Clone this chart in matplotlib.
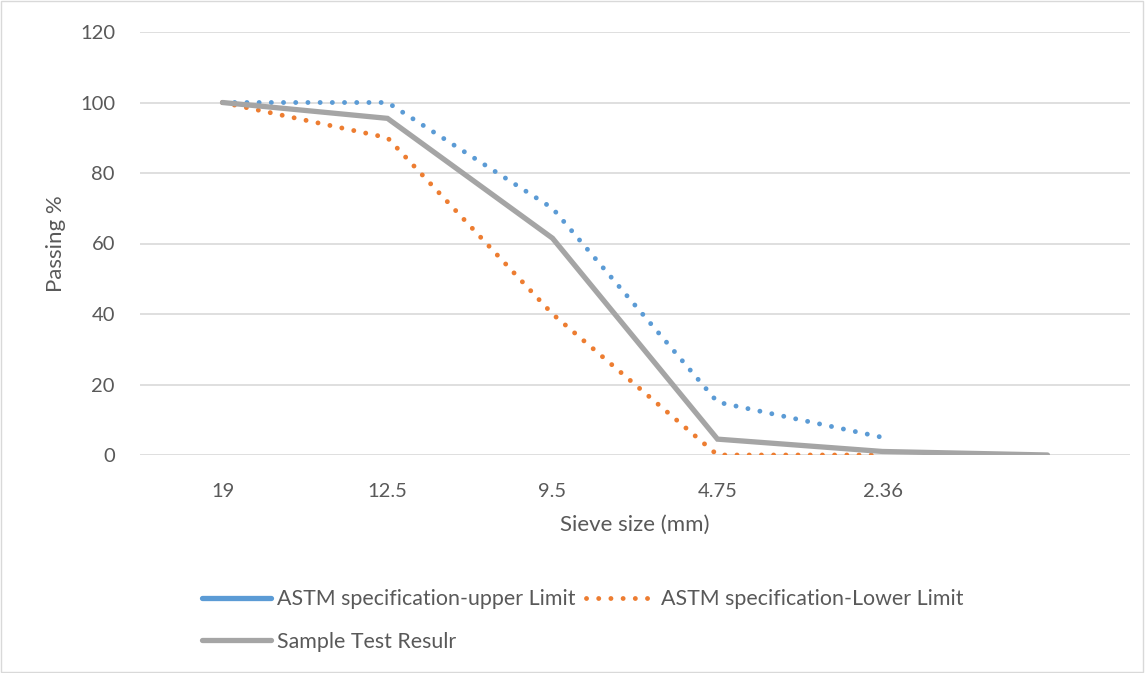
import numpy as np
import matplotlib.pyplot as plt
from matplotlib.lines import Line2D
from matplotlib.patches import Rectangle

plt.rcParams['font.family'] = ['Lato', 'DejaVu Sans']

sieve_labels = ['19', '12.5', '9.5', '4.75', '2.36', '']
upper_limit = [100, 100, 70, 15, 5]
lower_limit = [100, 90, 40, 0, 0]
sample_result = [100, 95.5, 61.5, 4.5, 1, 0]

blue = '#5B9BD5'
orange = '#ED7D31'
grey = '#A5A5A5'
text_col = '#595959'

fig = plt.figure(figsize=(11.45, 6.73), dpi=100)
ax = fig.add_axes([140 / 1145, 1 - 455 / 673, 990 / 1145, 423 / 673])

x = np.arange(len(sieve_labels))
dots = (0, (0.01, 2.5))
ax.plot(x[:len(upper_limit)], upper_limit, color=blue, lw=3.5,
        linestyle=dots, dash_capstyle='round', zorder=3)
ax.plot(x[:len(lower_limit)], lower_limit, color=orange, lw=3.5,
        linestyle=dots, dash_capstyle='round', zorder=3)
ax.plot(x, sample_result, color=grey, lw=3.8, solid_capstyle='round',
        solid_joinstyle='miter', zorder=4)

ax.set_xlim(-0.5, len(sieve_labels) - 0.5)
ax.set_ylim(0, 120)
ax.set_yticks(range(0, 121, 20))
ax.set_xticks(x)
ax.set_xticklabels(sieve_labels)
ax.grid(axis='y', color='#D9D9D9', lw=1.2)
ax.set_axisbelow(True)
for s in ax.spines.values():
    s.set_visible(False)
ax.tick_params(length=0, labelsize=14.5, labelcolor=text_col)
ax.tick_params(axis='x', pad=20)
ax.tick_params(axis='y', pad=18)
ax.set_xlabel('Sieve size (mm)', fontsize=16, color=text_col, labelpad=11)
ax.set_ylabel('Passing %', fontsize=16, color=text_col, labelpad=10)

handles = [
    Line2D([], [], color=blue, lw=3.8, solid_capstyle='round'),
    Line2D([], [], color=grey, lw=3.8, solid_capstyle='round'),
    Line2D([], [], color=orange, lw=3.5, linestyle=dots, dash_capstyle='round'),
]
labels = ['ASTM specification-upper Limit', 'Sample Test Resulr',
          'ASTM specification-Lower Limit']
fig.legend(handles, labels, ncol=2, loc='upper left',
           bbox_to_anchor=(183 / 1145, 1 - 570 / 673), frameon=False,
           fontsize=15.4, labelcolor=text_col, handlelength=3.2,
           handletextpad=0.3, columnspacing=0.5, labelspacing=1.05)

fig.patches.append(Rectangle((0.001, 0.002), 0.997, 0.996, transform=fig.transFigure,
                             fill=False, edgecolor='#D9D9D9', lw=1))

fig.savefig('out.png', dpi=100)
